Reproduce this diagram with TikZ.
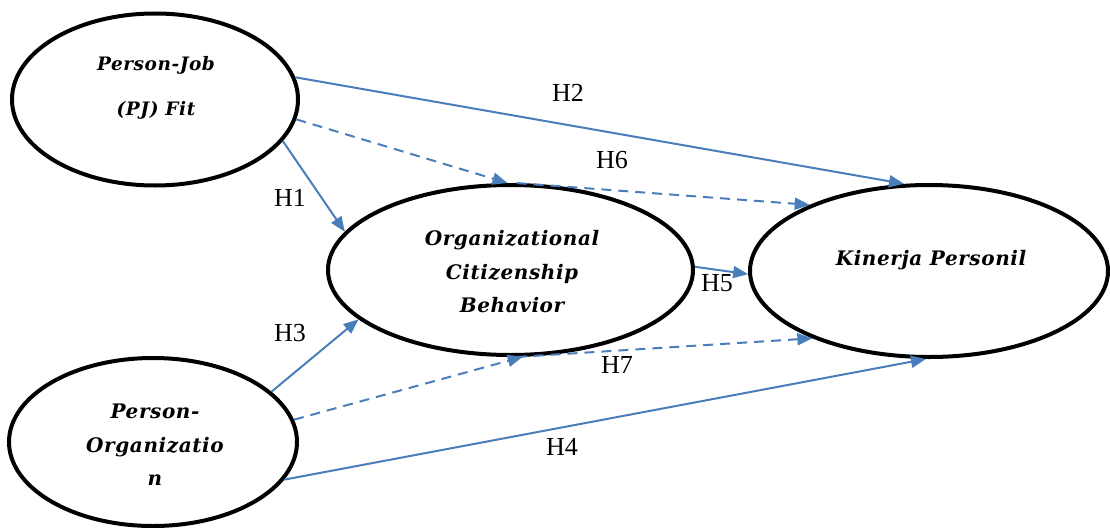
\documentclass[tikz,border=0pt]{standalone}
\usepackage{fontspec}
\setmainfont{DejaVu Serif}
\newfontfamily\labfont{Liberation Serif}
\newfontfamily\elfont[LetterSpace=3]{DejaVu Serif}
\usetikzlibrary{arrows.meta,shapes.geometric}
\definecolor{linkblue}{HTML}{4A7EBB}
\tikzset{
  ell/.style={ellipse, draw=black, line width=4pt, inner sep=0pt, fill=white},
  eltext/.style={align=center, inner sep=0pt, font=\elfont\bfseries\itshape\fontsize{20}{33.5}\selectfont},
  hlab/.style={inner sep=0pt, font=\labfont\fontsize{26}{26}\selectfont},
  link/.style={draw=linkblue, line width=2pt, -{Triangle[length=15pt,width=12pt]}},
  dlink/.style={link, dash pattern=on 10pt off 7pt},
}
\begin{document}
\begin{tikzpicture}[x=1pt,y=-1pt]
\useasboundingbox (0,0) rectangle (1110,527);
% ellipses
\node[ell, minimum width=286pt, minimum height=172pt] (pj) at (155,99.5) {};
\node[ell, minimum width=365pt, minimum height=170pt] (ocb) at (510.5,270) {};
\node[ell, minimum width=358pt, minimum height=172pt] (kp) at (929,271) {};
\node[ell, minimum width=288pt, minimum height=168pt] (po) at (153,442) {};
% texts
\node[eltext, font=\elfont\bfseries\itshape\fontsize{18.5}{45}\selectfont] (pjt) at (156,88) {Person-Job\\(PJ) Fit};
\node[eltext] (ocbt) at (512,272) {Organizational\\Citizenship\\Behavior};
\node[eltext] (kpt) at (931,260) {Kinerja Personil};
\node[eltext] (pot) at (155,445) {Person-\\Organizatio\\n};
% connectors
\draw[link] (pj.9) -- (kp.106);
\draw[dlink] (pj.-8) -- (ocb.92);
\draw[dlink] (ocb.86) -- (kp.151);
\draw[link] (pj.-18) -- (ocb.167);
\draw[link] (po.23) -- (ocb.198);
\draw[link] (ocb.1.5) -- (kp.181);
\draw[dlink] (po.9.4) -- (ocb.-82);
\draw[dlink] (ocb.-86) -- (kp.210);
\draw[link] (po.-16) -- (kp.-92);
% labels
\node[hlab] (h2) at (568,93) {H2};
\node[hlab] (h6) at (612,160) {H6};
\node[hlab] (h1) at (290,198) {H1};
\node[hlab] (h3) at (290,333) {H3};
\node[hlab] (h5) at (717,283) {H5};
\node[hlab] (h7) at (617,365) {H7};
\node[hlab] (h4) at (562,447) {H4};
\end{tikzpicture}
\end{document}
